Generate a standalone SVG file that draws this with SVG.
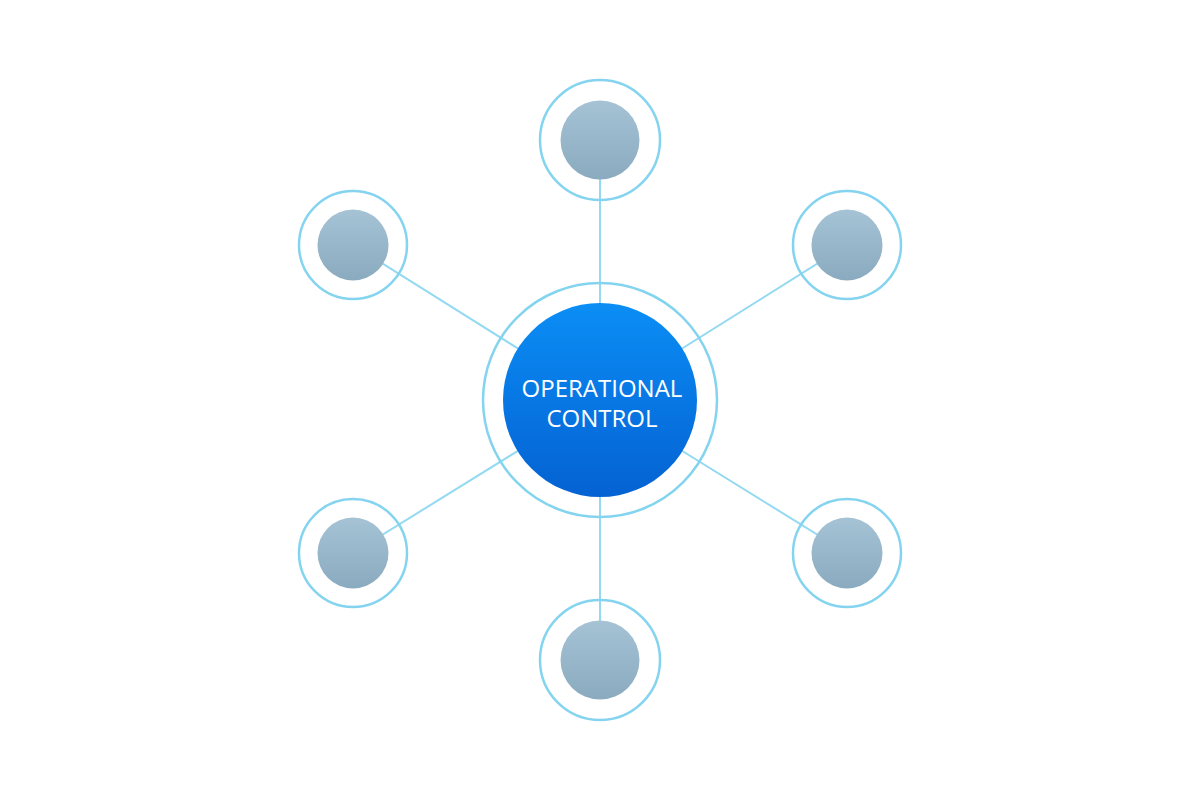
<svg xmlns="http://www.w3.org/2000/svg" width="1200" height="800" viewBox="0 0 1200 800">
  <defs>
    <linearGradient id="hubFill" x1="0" y1="0" x2="0" y2="1">
      <stop offset="0" stop-color="#0b8ef5"/>
      <stop offset="0.5" stop-color="#0777e4"/>
      <stop offset="1" stop-color="#0562d2"/>
    </linearGradient>
    <linearGradient id="satFill" x1="0" y1="0" x2="0" y2="1">
      <stop offset="0" stop-color="#a5c3d5"/>
      <stop offset="1" stop-color="#8aaabf"/>
    </linearGradient>
    <style>
      .ring { fill: none; stroke: #84d4f0; stroke-width: 2.5; }
      .sat { fill: url(#satFill); }
      .link { stroke: #93d9f1; stroke-width: 2; fill: none; }
      .label { font-family: "Open Sans", "Noto Sans", sans-serif; font-size: 24px; font-weight: 500; fill: #ffffff; text-anchor: middle; }
    </style>
  </defs>
  <rect width="1200" height="800" fill="#ffffff"/>
  <g id="connectors">
    <line class="link" x1="600" y1="400" x2="600" y2="140"/>
    <line class="link" x1="600" y1="400" x2="600" y2="660"/>
    <line class="link" x1="600" y1="400" x2="353" y2="245"/>
    <line class="link" x1="600" y1="400" x2="847" y2="245"/>
    <line class="link" x1="600" y1="400" x2="353" y2="553"/>
    <line class="link" x1="600" y1="400" x2="847" y2="553"/>
  </g>
  <g id="node-center">
    <circle class="ring" cx="600" cy="400" r="117"/>
    <circle cx="600" cy="400" r="97" fill="url(#hubFill)"/>
    <text class="label" x="602" y="397">OPERATIONAL</text>
    <text class="label" x="602" y="427">CONTROL</text>
  </g>
  <g id="node-top">
    <circle class="ring" cx="600" cy="140" r="60"/>
    <circle class="sat" cx="600" cy="140" r="39.5"/>
  </g>
  <g id="node-bottom">
    <circle class="ring" cx="600" cy="660" r="60"/>
    <circle class="sat" cx="600" cy="660" r="39.5"/>
  </g>
  <g id="node-upper-left">
    <circle class="ring" cx="353" cy="245" r="54"/>
    <circle class="sat" cx="353" cy="245" r="35.5"/>
  </g>
  <g id="node-upper-right">
    <circle class="ring" cx="847" cy="245" r="54"/>
    <circle class="sat" cx="847" cy="245" r="35.5"/>
  </g>
  <g id="node-lower-left">
    <circle class="ring" cx="353" cy="553" r="54"/>
    <circle class="sat" cx="353" cy="553" r="35.5"/>
  </g>
  <g id="node-lower-right">
    <circle class="ring" cx="847" cy="553" r="54"/>
    <circle class="sat" cx="847" cy="553" r="35.5"/>
  </g>
</svg>
